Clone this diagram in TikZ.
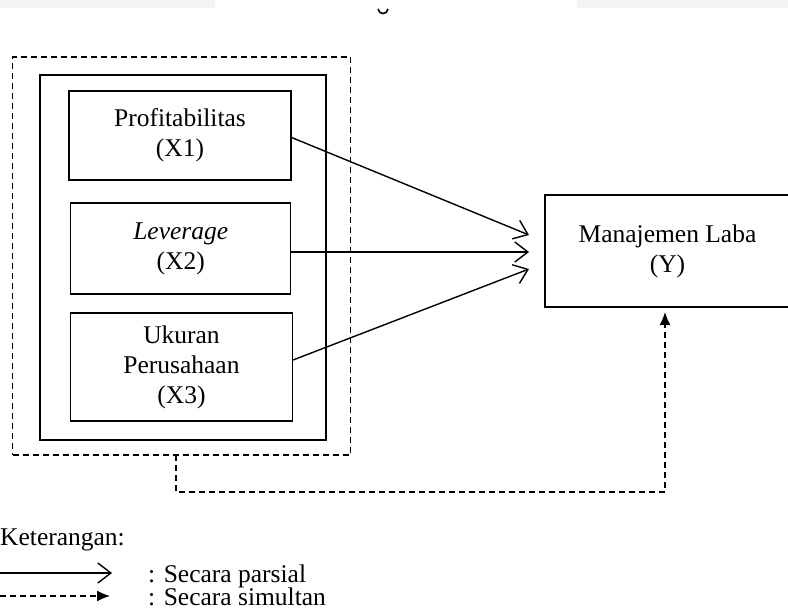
\documentclass[tikz,border=0pt]{standalone}
\usepackage{fontspec}
\setmainfont{Liberation Serif}
\usetikzlibrary{arrows.meta}
\definecolor{bargray}{RGB}{243,243,246}
\tikzset{
  box/.style={draw, line width=1.5pt, rectangle, inner sep=0pt, align=center, font=\fontsize{25.5}{30}\selectfont},
  partial/.style={line width=1.4pt, -{Straight Barb[length=13pt,width=20pt,line width=1.4pt]}},
  simul/.style={line width=1.4pt, dash pattern=on 6pt off 4pt, -{Latex[length=13pt,width=11pt]}},
  dashbox/.style={draw, line width=1.4pt, dash pattern=on 6pt off 4pt, rectangle, inner sep=0pt},
  legend/.style={inner sep=0pt, font=\fontsize{25.5}{30}\selectfont}
}
\begin{document}
\begin{tikzpicture}[x=1pt,y=-1pt]
\useasboundingbox (0,0) rectangle (788,613);
\clip (0,0) rectangle (788,613);
% top remnants
\fill[bargray] (0,0) rectangle (215,8);
\fill[bargray] (577,0) rectangle (788,8);
\draw[line width=1.6pt] (378,9) .. controls (379,15) and (387,15) .. (388,9);
% frames
\node[dashbox, minimum width=338pt, minimum height=398pt] (outer) at (181.5,256) {};
\node[box, minimum width=286pt, minimum height=365pt] (inner) at (183,257.5) {};
% variable boxes
\node[box, minimum width=221.7pt, minimum height=89pt] (x1) at (180,135.5) {Profitabilitas\\(X1)};
\node[box, minimum width=220pt, minimum height=91pt] (x2) at (180.7,248.5) {\textit{Leverage}\\(X2)};
\node[box, minimum width=221.6pt, minimum height=107.7pt] (x3) at (181.5,367) {Ukuran\\Perusahaan\\(X3)};
\node[box, minimum width=245pt, minimum height=112pt] (y) at (667.5,251) {Manajemen Laba\\(Y)};
% partial arrows
\coordinate (t1) at (529,235);
\coordinate (t2) at (529,252);
\coordinate (t3) at (529,269);
\draw[partial] ([yshift=-2pt]x1.east) -- (t1);
\draw[partial] (x2.east |- t2) -- (t2);
\draw[partial] ([yshift=7pt]x3.east) -- (t3);
% simultaneous arrow
\coordinate (d0) at (176,455);
\coordinate (d1) at (176,492);
\coordinate (d2) at (665,307);
\draw[simul, shorten >=5pt] (d0) -- (d1) -| (d2);
% legend
\node[legend, anchor=base west] (ket) at (0,545) {Keterangan:};
\coordinate (l1a) at (0,573);
\coordinate (l1b) at (112,573);
\coordinate (l2a) at (0,596);
\coordinate (l2b) at (110,596);
\draw[partial] (l1a) -- (l1b);
\draw[simul] (l2a) -- (l2b);
\node[legend, anchor=base west] (lp) at (148,582) {: Secara parsial};
\node[legend, anchor=base west] (ls) at (148,605) {: Secara simultan};
\end{tikzpicture}
\end{document}
